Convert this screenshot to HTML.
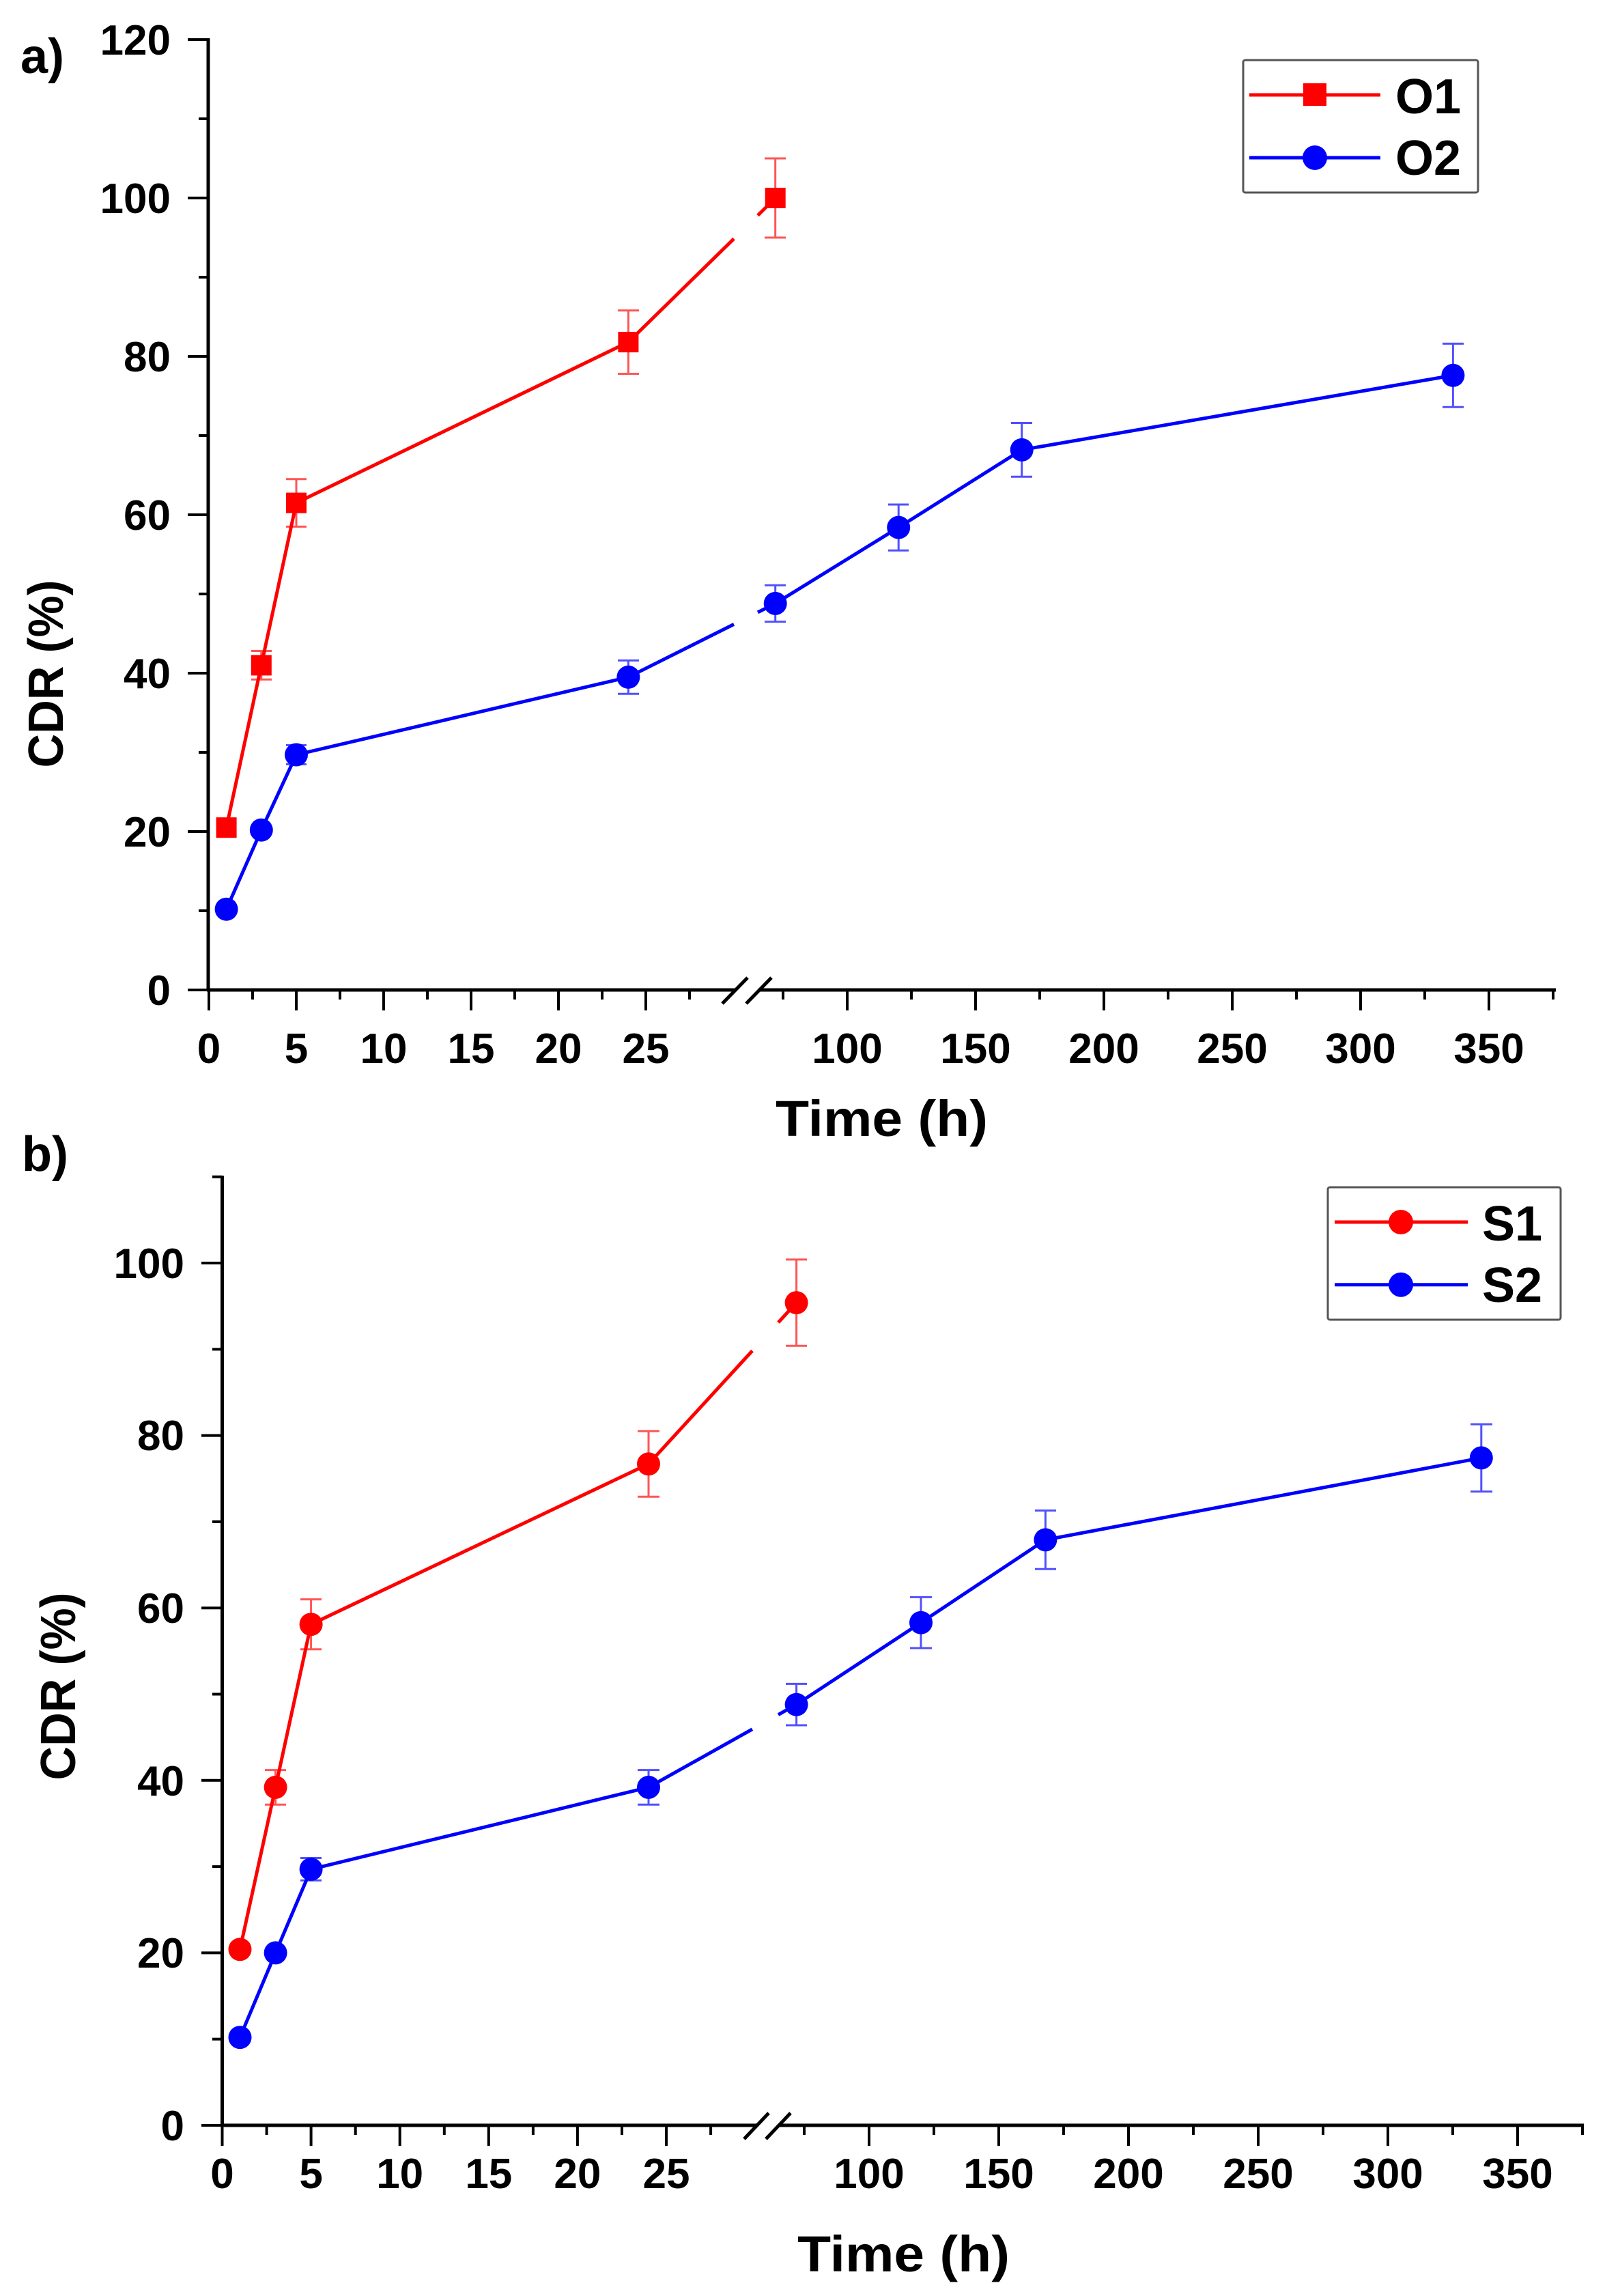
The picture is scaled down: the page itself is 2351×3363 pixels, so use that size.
<!DOCTYPE html>
<html>
<head>
<meta charset="utf-8">
<style>
html,body{margin:0;padding:0;background:#fff;}
svg{display:block;}
text{font-family:"Liberation Sans",Arial,sans-serif;font-weight:bold;fill:#000;}
</style>
</head>
<body>
<svg width="2351" height="3363" viewBox="0 0 2351 3363" xmlns="http://www.w3.org/2000/svg">
<rect width="2351" height="3363" fill="#fff"/>

<!-- ================= PANEL A ================= -->
<text x="30" y="107" font-size="72">a)</text>

<!-- axes -->
<g stroke="#000" stroke-width="5" fill="none" stroke-linecap="butt">
  <line x1="305" y1="56" x2="305" y2="1452"/>
  <line x1="303" y1="1450" x2="1076" y2="1450"/>
  <line x1="1111" y1="1450" x2="2279" y2="1450"/>
</g>
<!-- break slashes -->
<g stroke="#000" stroke-width="5">
  <line x1="1058" y1="1470" x2="1095" y2="1432"/>
  <line x1="1093" y1="1470" x2="1130" y2="1432"/>
</g>
<!-- y ticks -->
<g stroke="#000" stroke-width="4">
  <line x1="275" y1="1450" x2="305" y2="1450"/>
  <line x1="291" y1="1334" x2="305" y2="1334"/>
  <line x1="275" y1="1218" x2="305" y2="1218"/>
  <line x1="291" y1="1102" x2="305" y2="1102"/>
  <line x1="275" y1="986" x2="305" y2="986"/>
  <line x1="291" y1="870" x2="305" y2="870"/>
  <line x1="275" y1="754" x2="305" y2="754"/>
  <line x1="291" y1="638" x2="305" y2="638"/>
  <line x1="275" y1="522" x2="305" y2="522"/>
  <line x1="291" y1="406" x2="305" y2="406"/>
  <line x1="275" y1="290" x2="305" y2="290"/>
  <line x1="291" y1="174" x2="305" y2="174"/>
  <line x1="275" y1="58" x2="305" y2="58"/>
</g>
<!-- x ticks -->
<g stroke="#000" stroke-width="4">
  <line x1="306" y1="1450" x2="306" y2="1480"/>
  <line x1="370" y1="1450" x2="370" y2="1464"/>
  <line x1="434" y1="1450" x2="434" y2="1480"/>
  <line x1="498" y1="1450" x2="498" y2="1464"/>
  <line x1="562" y1="1450" x2="562" y2="1480"/>
  <line x1="626" y1="1450" x2="626" y2="1464"/>
  <line x1="690" y1="1450" x2="690" y2="1480"/>
  <line x1="754" y1="1450" x2="754" y2="1464"/>
  <line x1="818" y1="1450" x2="818" y2="1480"/>
  <line x1="882" y1="1450" x2="882" y2="1464"/>
  <line x1="946" y1="1450" x2="946" y2="1480"/>
  <line x1="1010" y1="1450" x2="1010" y2="1464"/>
  <line x1="1147" y1="1450" x2="1147" y2="1464"/>
  <line x1="1241" y1="1450" x2="1241" y2="1480"/>
  <line x1="1335" y1="1450" x2="1335" y2="1464"/>
  <line x1="1429" y1="1450" x2="1429" y2="1480"/>
  <line x1="1523" y1="1450" x2="1523" y2="1464"/>
  <line x1="1617" y1="1450" x2="1617" y2="1480"/>
  <line x1="1711" y1="1450" x2="1711" y2="1464"/>
  <line x1="1805" y1="1450" x2="1805" y2="1480"/>
  <line x1="1899" y1="1450" x2="1899" y2="1464"/>
  <line x1="1993" y1="1450" x2="1993" y2="1480"/>
  <line x1="2087" y1="1450" x2="2087" y2="1464"/>
  <line x1="2181" y1="1450" x2="2181" y2="1480"/>
  <line x1="2275" y1="1450" x2="2275" y2="1464"/>
</g>
<!-- y tick labels -->
<g font-size="62" text-anchor="end">
  <text x="250" y="1472">0</text>
  <text x="250" y="1240">20</text>
  <text x="250" y="1008">40</text>
  <text x="250" y="776">60</text>
  <text x="250" y="544">80</text>
  <text x="250" y="312">100</text>
  <text x="250" y="80">120</text>
</g>
<!-- x tick labels -->
<g font-size="62" text-anchor="middle">
  <text x="306" y="1557">0</text>
  <text x="434" y="1557">5</text>
  <text x="562" y="1557">10</text>
  <text x="690" y="1557">15</text>
  <text x="818" y="1557">20</text>
  <text x="946" y="1557">25</text>
  <text x="1241" y="1557">100</text>
  <text x="1429" y="1557">150</text>
  <text x="1617" y="1557">200</text>
  <text x="1805" y="1557">250</text>
  <text x="1993" y="1557">300</text>
  <text x="2181" y="1557">350</text>
</g>
<text x="1136" y="1664" font-size="74" textLength="311" lengthAdjust="spacingAndGlyphs">Time (h)</text>
<text transform="translate(92,987) rotate(-90)" x="0" y="0" font-size="72" text-anchor="middle" textLength="275" lengthAdjust="spacingAndGlyphs">CDR (%)</text>

<!-- series O1 -->
<g stroke="#ff5555" stroke-width="3">
  <line x1="382.8" y1="953.5" x2="382.8" y2="995.3"/><line x1="368" y1="953.5" x2="398" y2="953.5"/><line x1="368" y1="995.3" x2="398" y2="995.3"/>
  <line x1="434" y1="701.8" x2="434" y2="771.4"/><line x1="419" y1="701.8" x2="449" y2="701.8"/><line x1="419" y1="771.4" x2="449" y2="771.4"/>
  <line x1="920.4" y1="454.7" x2="920.4" y2="547.5"/><line x1="905" y1="454.7" x2="936" y2="454.7"/><line x1="905" y1="547.5" x2="936" y2="547.5"/>
  <line x1="1135.7" y1="232" x2="1135.7" y2="348"/><line x1="1120" y1="232" x2="1151" y2="232"/><line x1="1120" y1="348" x2="1151" y2="348"/>
</g>
<path d="M331.6 1212.2 L382.8 974.4 L434 736.6 L920.4 501.1 L1075 349.7 M1110 315.5 L1135.7 290" stroke="#ff0000" stroke-width="5" fill="none" stroke-linejoin="round"/>
<g fill="#ff0000">
  <rect x="316.6" y="1197.2" width="30" height="30"/>
  <rect x="367.8" y="959.4" width="30" height="30"/>
  <rect x="419" y="721.6" width="30" height="30"/>
  <rect x="905.4" y="486.1" width="30" height="30"/>
  <rect x="1120.7" y="275" width="30" height="30"/>
</g>

<!-- series O2 -->
<g stroke="#5050ff" stroke-width="3">
  <line x1="434" y1="1091.5" x2="434" y2="1119.5"/><line x1="419" y1="1091.5" x2="449" y2="1091.5"/><line x1="419" y1="1119.5" x2="449" y2="1119.5"/>
  <line x1="920.4" y1="967.4" x2="920.4" y2="1016.2"/><line x1="905" y1="967.4" x2="936" y2="967.4"/><line x1="905" y1="1016.2" x2="936" y2="1016.2"/>
  <line x1="1135.7" y1="857.2" x2="1135.7" y2="910.6"/><line x1="1120" y1="857.2" x2="1151" y2="857.2"/><line x1="1120" y1="910.6" x2="1151" y2="910.6"/>
  <line x1="1316.2" y1="739" x2="1316.2" y2="806.2"/><line x1="1301" y1="739" x2="1331" y2="739"/><line x1="1301" y1="806.2" x2="1331" y2="806.2"/>
  <line x1="1496.7" y1="619.5" x2="1496.7" y2="698.3"/><line x1="1481" y1="619.5" x2="1512" y2="619.5"/><line x1="1481" y1="698.3" x2="1512" y2="698.3"/>
  <line x1="2128.4" y1="503.4" x2="2128.4" y2="596.2"/><line x1="2113" y1="503.4" x2="2144" y2="503.4"/><line x1="2113" y1="596.2" x2="2144" y2="596.2"/>
</g>
<path d="M331.6 1331.7 L382.8 1215.7 L434 1105.5 L920.4 991.8 L1075 914.4 M1110 896.9 L1135.7 883.9 L1316.2 772.6 L1496.7 658.9 L2128.4 549.8" stroke="#0000ff" stroke-width="5" fill="none" stroke-linejoin="round"/>
<g fill="#0000ff">
  <circle cx="331.6" cy="1331.7" r="17"/>
  <circle cx="382.8" cy="1215.7" r="17"/>
  <circle cx="434" cy="1105.5" r="17"/>
  <circle cx="920.4" cy="991.8" r="17"/>
  <circle cx="1135.7" cy="883.9" r="17"/>
  <circle cx="1316.2" cy="772.6" r="17"/>
  <circle cx="1496.7" cy="658.9" r="17"/>
  <circle cx="2128.4" cy="549.8" r="17"/>
</g>

<!-- legend a -->
<rect x="1821" y="88" width="344" height="194" fill="#fff" stroke="#555" stroke-width="3" rx="3"/>
<line x1="1830" y1="139" x2="2022" y2="139" stroke="#ff0000" stroke-width="5"/>
<rect x="1909" y="122" width="34" height="33" fill="#ff0000"/>
<line x1="1830" y1="231" x2="2022" y2="231" stroke="#0000ff" stroke-width="5"/>
<circle cx="1926" cy="231" r="18" fill="#0000ff"/>
<text x="2044" y="166" font-size="72">O1</text>
<text x="2044" y="256" font-size="72">O2</text>

<!-- ================= PANEL B ================= -->
<text x="32" y="1715" font-size="72">b)</text>

<g stroke="#000" stroke-width="5" fill="none">
  <line x1="325.5" y1="1722" x2="325.5" y2="3115"/>
  <line x1="323" y1="3113" x2="1108" y2="3113"/>
  <line x1="1140" y1="3113" x2="2320" y2="3113"/>
</g>
<g stroke="#000" stroke-width="5">
  <line x1="1090" y1="3133" x2="1126" y2="3095"/>
  <line x1="1122" y1="3133" x2="1158" y2="3095"/>
</g>
<g stroke="#000" stroke-width="4">
  <line x1="295" y1="3113" x2="325.5" y2="3113"/>
  <line x1="311" y1="2986.7" x2="325.5" y2="2986.7"/>
  <line x1="295" y1="2860.4" x2="325.5" y2="2860.4"/>
  <line x1="311" y1="2734.1" x2="325.5" y2="2734.1"/>
  <line x1="295" y1="2607.8" x2="325.5" y2="2607.8"/>
  <line x1="311" y1="2481.5" x2="325.5" y2="2481.5"/>
  <line x1="295" y1="2355.2" x2="325.5" y2="2355.2"/>
  <line x1="311" y1="2228.9" x2="325.5" y2="2228.9"/>
  <line x1="295" y1="2102.6" x2="325.5" y2="2102.6"/>
  <line x1="311" y1="1976.3" x2="325.5" y2="1976.3"/>
  <line x1="295" y1="1850" x2="325.5" y2="1850"/>
  <line x1="311" y1="1723.7" x2="325.5" y2="1723.7"/>
</g>
<g stroke="#000" stroke-width="4">
  <line x1="325.5" y1="3113" x2="325.5" y2="3143"/>
  <line x1="390.6" y1="3113" x2="390.6" y2="3127"/>
  <line x1="455.6" y1="3113" x2="455.6" y2="3143"/>
  <line x1="520.7" y1="3113" x2="520.7" y2="3127"/>
  <line x1="585.7" y1="3113" x2="585.7" y2="3143"/>
  <line x1="650.8" y1="3113" x2="650.8" y2="3127"/>
  <line x1="715.8" y1="3113" x2="715.8" y2="3143"/>
  <line x1="780.9" y1="3113" x2="780.9" y2="3127"/>
  <line x1="845.9" y1="3113" x2="845.9" y2="3143"/>
  <line x1="911" y1="3113" x2="911" y2="3127"/>
  <line x1="976" y1="3113" x2="976" y2="3143"/>
  <line x1="1041.1" y1="3113" x2="1041.1" y2="3127"/>
  <line x1="1178" y1="3113" x2="1178" y2="3127"/>
  <line x1="1273" y1="3113" x2="1273" y2="3143"/>
  <line x1="1368" y1="3113" x2="1368" y2="3127"/>
  <line x1="1463" y1="3113" x2="1463" y2="3143"/>
  <line x1="1558" y1="3113" x2="1558" y2="3127"/>
  <line x1="1653" y1="3113" x2="1653" y2="3143"/>
  <line x1="1748" y1="3113" x2="1748" y2="3127"/>
  <line x1="1843" y1="3113" x2="1843" y2="3143"/>
  <line x1="1938" y1="3113" x2="1938" y2="3127"/>
  <line x1="2033" y1="3113" x2="2033" y2="3143"/>
  <line x1="2128" y1="3113" x2="2128" y2="3127"/>
  <line x1="2223" y1="3113" x2="2223" y2="3143"/>
  <line x1="2318" y1="3113" x2="2318" y2="3127"/>
</g>
<g font-size="62" text-anchor="end">
  <text x="270" y="3135">0</text>
  <text x="270" y="2882">20</text>
  <text x="270" y="2630">40</text>
  <text x="270" y="2377">60</text>
  <text x="270" y="2124">80</text>
  <text x="270" y="1872">100</text>
</g>
<g font-size="62" text-anchor="middle">
  <text x="325.5" y="3205">0</text>
  <text x="455.6" y="3205">5</text>
  <text x="585.7" y="3205">10</text>
  <text x="715.8" y="3205">15</text>
  <text x="845.9" y="3205">20</text>
  <text x="976" y="3205">25</text>
  <text x="1273" y="3205">100</text>
  <text x="1463" y="3205">150</text>
  <text x="1653" y="3205">200</text>
  <text x="1843" y="3205">250</text>
  <text x="2033" y="3205">300</text>
  <text x="2223" y="3205">350</text>
</g>
<text x="1168" y="3327" font-size="74" textLength="311" lengthAdjust="spacingAndGlyphs">Time (h)</text>
<text transform="translate(110,2470) rotate(-90)" x="0" y="0" font-size="72" text-anchor="middle" textLength="275" lengthAdjust="spacingAndGlyphs">CDR (%)</text>

<!-- series S1 -->
<g stroke="#ff5555" stroke-width="3">
  <line x1="403.6" y1="2592.6" x2="403.6" y2="2643.2"/><line x1="388" y1="2592.6" x2="419" y2="2592.6"/><line x1="388" y1="2643.2" x2="419" y2="2643.2"/>
  <line x1="455.6" y1="2342.6" x2="455.6" y2="2415.8"/><line x1="440" y1="2342.6" x2="471" y2="2342.6"/><line x1="440" y1="2415.8" x2="471" y2="2415.8"/>
  <line x1="950" y1="2096.3" x2="950" y2="2192.3"/><line x1="934" y1="2096.3" x2="966" y2="2096.3"/><line x1="934" y1="2192.3" x2="966" y2="2192.3"/>
  <line x1="1166.6" y1="1844.9" x2="1166.6" y2="1971.3"/><line x1="1151" y1="1844.9" x2="1182" y2="1844.9"/><line x1="1151" y1="1971.3" x2="1182" y2="1971.3"/>
</g>
<path d="M351.5 2855.3 L403.6 2617.9 L455.6 2379.2 L950 2144.3 L1102 1978.5 M1140 1937.1 L1166.6 1908.1" stroke="#ff0000" stroke-width="5" fill="none" stroke-linejoin="round"/>
<g fill="#ff0000">
  <circle cx="351.5" cy="2855.3" r="17"/>
  <circle cx="403.6" cy="2617.9" r="17"/>
  <circle cx="455.6" cy="2379.2" r="17"/>
  <circle cx="950" cy="2144.3" r="17"/>
  <circle cx="1166.6" cy="1908.1" r="17"/>
</g>

<!-- series S2 -->
<g stroke="#5050ff" stroke-width="3">
  <line x1="455.6" y1="2721.5" x2="455.6" y2="2754.3"/><line x1="440" y1="2721.5" x2="471" y2="2721.5"/><line x1="440" y1="2754.3" x2="471" y2="2754.3"/>
  <line x1="950" y1="2592.6" x2="950" y2="2643.2"/><line x1="934" y1="2592.6" x2="966" y2="2592.6"/><line x1="934" y1="2643.2" x2="966" y2="2643.2"/>
  <line x1="1166.6" y1="2466.4" x2="1166.6" y2="2527"/><line x1="1151" y1="2466.4" x2="1182" y2="2466.4"/><line x1="1151" y1="2527" x2="1182" y2="2527"/>
  <line x1="1349" y1="2339.4" x2="1349" y2="2414"/><line x1="1333" y1="2339.4" x2="1365" y2="2339.4"/><line x1="1333" y1="2414" x2="1365" y2="2414"/>
  <line x1="1531.4" y1="2212.5" x2="1531.4" y2="2298.3"/><line x1="1516" y1="2212.5" x2="1547" y2="2212.5"/><line x1="1516" y1="2298.3" x2="1547" y2="2298.3"/>
  <line x1="2169.8" y1="2086.1" x2="2169.8" y2="2184.7"/><line x1="2154" y1="2086.1" x2="2186" y2="2086.1"/><line x1="2154" y1="2184.7" x2="2186" y2="2184.7"/>
</g>
<path d="M351.5 2984.2 L403.6 2860.4 L455.6 2737.9 L950 2617.9 L1102 2532.8 M1140 2511.6 L1166.6 2496.7 L1349 2376.7 L1531.4 2255.4 L2169.8 2135.4" stroke="#0000ff" stroke-width="5" fill="none" stroke-linejoin="round"/>
<g fill="#0000ff">
  <circle cx="351.5" cy="2984.2" r="17"/>
  <circle cx="403.6" cy="2860.4" r="17"/>
  <circle cx="455.6" cy="2737.9" r="17"/>
  <circle cx="950" cy="2617.9" r="17"/>
  <circle cx="1166.6" cy="2496.7" r="17"/>
  <circle cx="1349" cy="2376.7" r="17"/>
  <circle cx="1531.4" cy="2255.4" r="17"/>
  <circle cx="2169.8" cy="2135.4" r="17"/>
</g>

<!-- legend b -->
<rect x="1945" y="1739" width="341" height="194" fill="#fff" stroke="#555" stroke-width="3" rx="3"/>
<line x1="1955" y1="1790" x2="2150" y2="1790" stroke="#ff0000" stroke-width="5"/>
<circle cx="2052" cy="1790" r="18" fill="#ff0000"/>
<line x1="1955" y1="1881.7" x2="2150" y2="1881.7" stroke="#0000ff" stroke-width="5"/>
<circle cx="2052" cy="1881.7" r="18" fill="#0000ff"/>
<text x="2171" y="1817" font-size="72">S1</text>
<text x="2171" y="1907" font-size="72">S2</text>
</svg>
</body>
</html>
